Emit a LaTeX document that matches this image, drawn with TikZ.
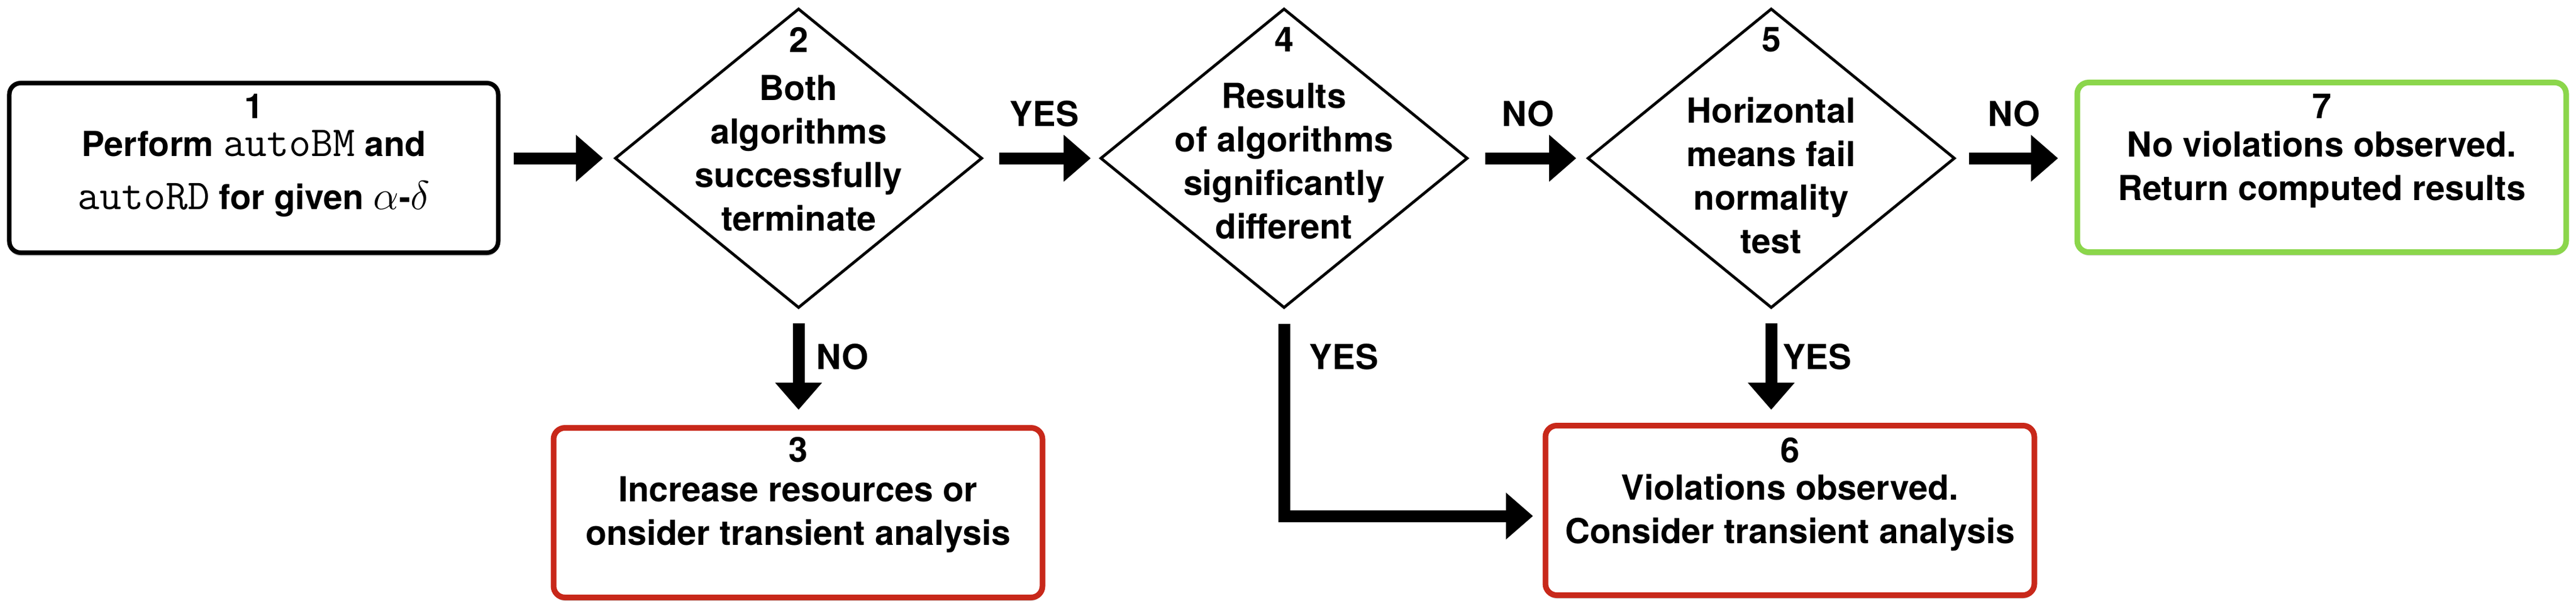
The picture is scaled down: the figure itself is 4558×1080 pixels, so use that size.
\documentclass[tikz,border=0pt]{standalone}
\usepackage{fontspec}
\setmainfont{TeX Gyre Heros}
\setmonofont{Latin Modern Mono}
\usetikzlibrary{shapes.geometric,arrows.meta,shadows}
\definecolor{redb}{HTML}{C8281A}
\definecolor{greenb}{HTML}{8BD64B}
\newcommand\bodyfont{\fontsize{12.2pt}{15.4pt}\selectfont\bfseries}
\newcommand\labfont{\fontsize{12.2pt}{14pt}\selectfont\bfseries}
\newcommand\mtt[1]{{\fontsize{15.1pt}{15.4pt}\mdseries\ttfamily #1}}
\newcommand\mth[1]{{\fontsize{15pt}{15.4pt}\selectfont$#1$}}
\tikzset{
  box/.style={rectangle, rounded corners=4pt, minimum width=173pt, minimum height=60pt,
    fill=white, inner sep=0pt,
    drop shadow={shadow xshift=0pt, shadow yshift=-1.2pt, opacity=0.2, fill=black}},
  blackbox/.style={box, draw=black, line width=1.6pt},
  redbox/.style={box, draw=redb, line width=2pt},
  greenbox/.style={box, draw=greenb, line width=2pt},
  dia/.style={diamond, draw=black, line width=1pt, minimum width=130pt, minimum height=106pt,
    inner sep=0pt, fill=white},
  txt/.style={align=center, font=\bodyfont, inner sep=0pt},
  num/.style={font=\bodyfont, inner sep=0pt},
  lab/.style={font=\labfont, inner sep=0pt},
  arr/.style={line width=4.2pt, -{Triangle[length=9.6pt, width=16pt]}}
}
\begin{document}
\begin{tikzpicture}[x=0.2pt, y=-0.2pt]
\useasboundingbox (0,0) rectangle (4558,1080);

% shapes
\node[blackbox] (b1) at (449,297) {};
\node[dia] (d2) at (1413,280) {};
\node[dia] (d4) at (2272,280) {};
\node[dia] (d5) at (3134,280) {};
\node[redbox] (b3) at (1412,907) {};
\node[redbox] (b6) at (3167,903) {};
\node[greenbox] (b7) at (4108,296) {};

% texts
\node[num] (n1) at (449,188) {1};
\node[txt, font=\fontsize{12.2pt}{18.8pt}\selectfont\bfseries] (t1) at (449,307)
  {Perform \mtt{autoBM} and\\\mtt{autoRD} for given \mth{\alpha}-\mth{\delta}};
\node[num] (n2) at (1413,70) {2};
\node[txt] (t2) at (1413,271) {Both\\algorithms\\successfully\\terminate};
\node[num] (n4) at (2272,70) {4};
\node[txt] (t4) at (2272,285) {Results\\of algorithms\\significantly\\different};
\node[num] (n5) at (3134,70) {5};
\node[txt] (t5) at (3134,311) {Horizontal\\means fail\\normality\\test};
\node[num] (n3) at (1412,796) {3};
\node[txt] (t3) at (1412,910) {Increase resources or\\onsider transient analysis};
\node[num] (n6) at (3167,797) {6};
\node[txt] (t6) at (3167,907) {Violations observed.\\Consider transient analysis};
\node[num] (n7) at (4108,188) {7};
\node[txt] (t7) at (4108,300) {No violations observed.\\Return computed results};

% connectors
\draw[arr, shorten <=4.6pt, shorten >=3.7pt] (b1.east |- d2.west) -- (d2.west);
\draw[arr, shorten <=5.5pt, shorten >=2.9pt] (d2.east) -- (d4.west);
\draw[arr, shorten <=5.7pt, shorten >=3.5pt] (d4.east) -- (d5.west);
\draw[arr, shorten <=4.5pt, shorten >=5.8pt] (d5.east) -- (d5.east -| b7.west);
\draw[arr, shorten <=4.9pt, shorten >=5.4pt] (d2.south) -- (d2.south |- b3.north);
\draw[arr, shorten <=4.9pt, shorten >=4.6pt] (d5.south) -- (d5.south |- b6.north);
\draw[arr, shorten <=5pt, shorten >=3.4pt] (d4.south) |- ([yshift=-2pt]b6.west);

% connector labels
\node[lab] (l24) at (1848,201) {YES};
\node[lab] (l23) at (1491,631) {NO};
\node[lab] (l45) at (2704,201) {NO};
\node[lab] (l46) at (2378,631) {YES};
\node[lab] (l57) at (3564,201) {NO};
\node[lab] (l56) at (3215,631) {YES};
\end{tikzpicture}
\end{document}
